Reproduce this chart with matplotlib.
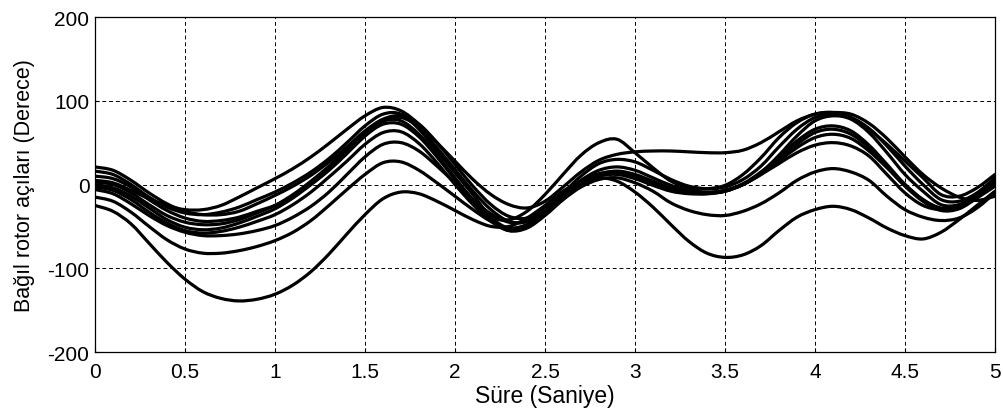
import numpy as np
import matplotlib
matplotlib.use("Agg")
import matplotlib.pyplot as plt
from matplotlib.path import Path
from matplotlib.patches import PathPatch

plt.rcParams['font.family'] = ['Liberation Sans', 'DejaVu Sans']
plt.rcParams['axes.unicode_minus'] = False

# time axis (s)
t = np.round(np.arange(0, 5.0001, 0.1), 2)

# relative rotor angles (degrees), read every 0.1 s
A = [-25, -32, -47, -70, -93, -113, -128, -136, -139, -137,
     -131, -120, -104, -83, -59, -36, -17, -9, -11, -20,
     -31, -42, -50, -50, -40, -25, -8, 3, 8, 4,
     -9, -27, -48, -68, -82, -87, -84, -73, -55, -39,
     -30, -26, -30, -40, -52, -61, -65, -57, -42, -25, -8]
C = [-15, -20, -33, -50, -66, -77, -82, -82, -79, -74,
     -67, -57, -43, -25, -6, 12, 26, 27, 17, 2,
     -14, -30, -44, -52, -48, -35, -18, -3, 6, 8,
     2, -8, -22, -31, -36, -37, -32, -23, -10, 5,
     15, 19, 15, 5, -14, -30, -39, -43, -40, -28, -10]
D = [-6, -11, -23, -37, -49, -57, -61, -61, -59, -55,
     -49, -39, -26, -9, 12, 33, 48, 50, 40, 22,
     2, -18, -35, -45, -44, -32, -14, 2, 12, 14,
     9, 1, -6, -10, -11, -8, 0, 12, 25, 38,
     47, 50, 46, 34, 12, -10, -25, -30, -27, -16, -2]
E = [-3, -7, -18, -33, -46, -55, -58, -56, -51, -44,
     -36, -24, -9, 9, 28, 48, 62, 63, 49, 26,
     0, -24, -44, -55, -50, -35, -16, 0, 10, 12,
     7, -1, -8, -11, -11, -8, 0, 12, 28, 44,
     56, 60, 55, 40, 20, -2, -20, -31, -29, -16, 0]
F = [0, -4, -14, -28, -42, -51, -54, -52, -46, -38,
     -29, -16, 0, 18, 38, 58, 72, 72, 57, 33,
     6, -20, -42, -55, -52, -37, -18, 0, 12, 16,
     12, 4, -4, -9, -10, -8, 0, 13, 30, 48,
     62, 66, 60, 44, 22, 0, -18, -29, -27, -14, 2]
G = [3, 0, -10, -24, -37, -45, -48, -47, -42, -34,
     -25, -12, 4, 22, 42, 62, 76, 76, 60, 35,
     8, -18, -40, -52, -48, -32, -12, 4, 13, 15,
     10, 2, -5, -9, -10, -7, 1, 15, 33, 52,
     66, 70, 64, 47, 24, 0, -18, -28, -26, -12, 6]
H = [10, 7, -3, -18, -31, -40, -44, -43, -39, -32,
     -25, -14, 0, 17, 37, 58, 75, 80, 68, 44,
     18, -8, -30, -44, -44, -30, -12, 5, 17, 21,
     17, 8, -1, -7, -9, -7, 0, 14, 35, 58,
     76, 82, 78, 62, 38, 12, -8, -24, -24, -12, 5]
I = [21, 17, 5, -10, -23, -32, -36, -36, -32, -23,
     -13, -2, 11, 27, 45, 64, 78, 82, 72, 50,
     24, -2, -24, -38, -40, -28, -10, 10, 25, 30,
     27, 17, 6, -2, -5, -3, 6, 22, 45, 66,
     80, 84, 80, 67, 46, 22, 0, -18, -20, -10, 8]
J = [16, 12, 0, -15, -27, -34, -36, -33, -27, -18,
     -9, 2, 15, 31, 50, 70, 84, 84, 66, 40,
     14, -12, -38, -42, -32, -12, 12, 35, 50, 54,
     38, 20, 4, -4, -5, -1, 12, 32, 56, 74,
     84, 86, 80, 66, 48, 28, 8, -12, -14, -4, 12]
B = [5, 2, -7, -17, -25, -30, -30, -25, -15, -4,
     7, 19, 33, 49, 66, 82, 92, 88, 72, 50,
     28, 6, -12, -24, -28, -20, -3, 15, 29, 36,
     39, 40, 40, 39, 38, 38, 41, 50, 63, 76,
     84, 86, 84, 73, 55, 33, 12, -4, -15, -19, -14]

series = [A, C, D, E, F, G, H, I, J, B]

xticks = [0, 0.5, 1, 1.5, 2, 2.5, 3, 3.5, 4, 4.5, 5]
xticklabels = ['0', '0.5', '1', '1.5', '2', '2.5', '3', '3.5', '4', '4.5', '5']
yticks = [-200, -100, 0, 100, 200]


def smooth_path(x, y):
    """Bezier path (Catmull-Rom style) passing through every data point."""
    x = np.asarray(x, float)
    y = np.asarray(y, float)
    px = np.concatenate([[x[0]], x, [x[-1]]])
    py = np.concatenate([[y[0]], y, [y[-1]]])
    verts = [(x[0], y[0])]
    codes = [Path.MOVETO]
    for i in range(1, len(x)):
        p0 = (px[i - 1], py[i - 1])
        p1 = (px[i], py[i])
        p2 = (px[i + 1], py[i + 1])
        p3 = (px[i + 2], py[i + 2])
        c1 = (p1[0] + (p2[0] - p0[0]) / 6, p1[1] + (p2[1] - p0[1]) / 6)
        c2 = (p2[0] - (p3[0] - p1[0]) / 6, p2[1] - (p3[1] - p1[1]) / 6)
        verts += [c1, c2, p2]
        codes += [Path.CURVE4] * 3
    return Path(verts, codes)


fig = plt.figure(figsize=(10.04, 4.14), dpi=100)
ax = fig.add_axes([0.0946, 0.1473, 0.8964, 0.8092])

for s in series:
    ax.add_patch(PathPatch(smooth_path(t, s), facecolor='none',
                           edgecolor='black', linewidth=2.3,
                           capstyle='round', joinstyle='round'))

ax.set_xlim(0, 5)
ax.set_ylim(-200, 200)
ax.set_xticks(xticks)
ax.set_xticklabels(xticklabels)
ax.set_yticks(yticks)
ax.grid(True, color='black', linestyle=(0, (4, 3)), linewidth=0.7)
ax.tick_params(direction='in', length=3, labelsize=15)
ax.tick_params(axis='x', pad=7)
ax.tick_params(axis='y', pad=4)
for sp in ax.spines.values():
    sp.set_linewidth(0.9)
ax.set_xlabel('Süre (Saniye)', fontsize=16.5, labelpad=2)
ax.set_ylabel('Bağıl rotor açıları (Derece)', fontsize=15.5, labelpad=9)

fig.savefig('out.png', dpi=100)
